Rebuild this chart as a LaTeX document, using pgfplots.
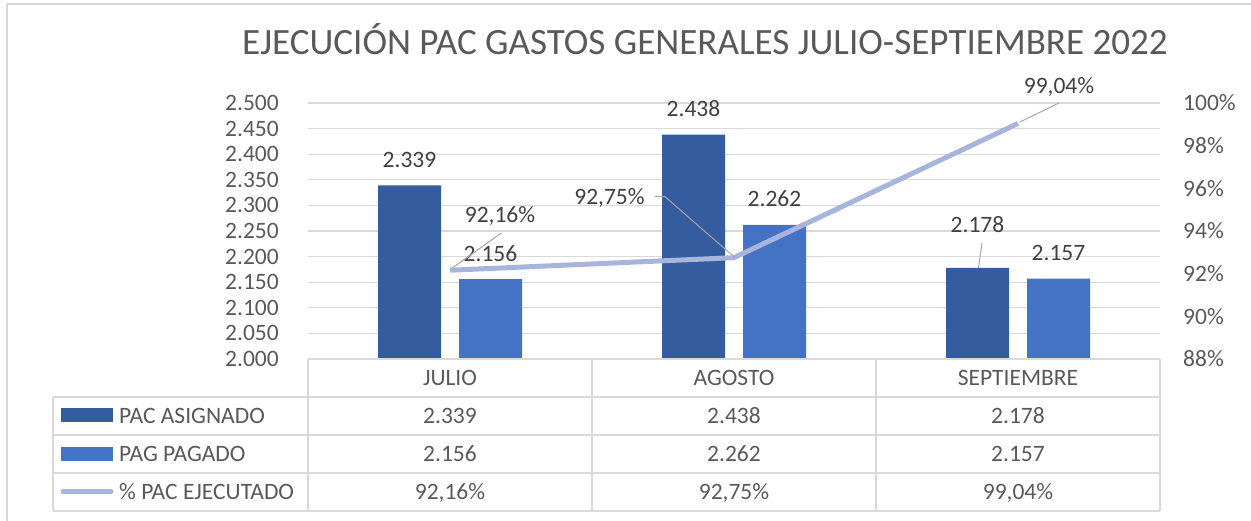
\documentclass[border=0pt]{standalone}
\usepackage{fontspec}
\setmainfont{Carlito}
\usepackage{pgfplots}
\pgfplotsset{compat=1.18}
\usepackage{pgfplotstable}
\definecolor{darkbar}{HTML}{345C9E}
\definecolor{lightbar}{HTML}{4472C4}
\definecolor{linec}{HTML}{A7B5DD}
\definecolor{gridc}{HTML}{D9D9D9}
\definecolor{txt}{HTML}{595959}
\definecolor{lbl}{HTML}{404040}
\definecolor{leader}{HTML}{A6A6A6}

\pgfplotstableread{
x y dy
0 2.339 18
1 2.438 18
2 2.178 35
}\asignado
\pgfplotstableread{
x y dy
0 2.156 18
1 2.262 18
2 2.157 18
}\pagado
\pgfplotstableread{
x y dx dy
0 92.16 50 48
1 92.75 -124.5 53
2 99.04 41 29.5
}\ejec

\newcommand{\fs}{\fontsize{23.5}{28}\selectfont}

\begin{document}
\begin{tikzpicture}[x=1pt,y=1pt]
\path[use as bounding box] (0,0) rectangle (1251,521);
\draw[gridc, line width=1.2pt] (7,0) -- (7,517) -- (1251,517);

\node[txt, anchor=base, font=\fontsize{37.1}{41}\selectfont, inner sep=0pt] at (705,466) {EJECUCIÓN PAC GASTOS GENERALES JULIO-SEPTIEMBRE 2022};

\begin{axis}[
  at={(308pt,162pt)}, anchor=south west,
  width=852pt, height=256pt, scale only axis,
  xmin=-0.5, xmax=2.5, ymin=2, ymax=2.5,
  xtick=\empty,
  ytick={2,2.05,2.1,2.15,2.2,2.25,2.3,2.35,2.4,2.45,2.5},
  ymajorgrids, grid style={gridc, line width=1.2pt},
  axis line style={draw=none},
  major tick length=0pt,
  yticklabel style={txt, font=\fs, anchor=east, inner sep=0pt, xshift=-29pt,
    /pgf/number format/.cd, fixed, fixed zerofill, precision=3, assume math mode=true},
]
\addplot[ybar, bar width=63pt, bar shift=-40.5pt, fill=darkbar, draw=none,
  nodes near coords={\pgfmathprintnumber[fixed,fixed zerofill,precision=3,assume math mode=true]{\pgfplotspointmeta}},
  visualization depends on={\thisrow{dy} \as \labdy},
  every node near coord/.append style={lbl, font=\fs, anchor=base, inner sep=0pt, xshift=-40.5pt, yshift=\labdy pt}
] table[x=x,y=y] {\asignado};
\addplot[ybar, bar width=63pt, bar shift=40.5pt, fill=lightbar, draw=none,
  nodes near coords={\pgfmathprintnumber[fixed,fixed zerofill,precision=3,assume math mode=true]{\pgfplotspointmeta}},
  visualization depends on={\thisrow{dy} \as \labdy},
  every node near coord/.append style={lbl, font=\fs, anchor=base, inner sep=0pt, xshift=40.5pt, yshift=\labdy pt}
] table[x=x,y=y] {\pagado};
\draw[leader, line width=1pt] (axis cs:2,2.178) ++(-39.5pt,0pt) -- ++(3.5pt,25pt);
\end{axis}

\begin{axis}[
  at={(308pt,162pt)}, anchor=south west,
  width=852pt, height=256pt, scale only axis,
  xmin=-0.5, xmax=2.5, ymin=88, ymax=100,
  axis y line*=right,
  xtick=\empty,
  ytick={88,90,92,94,96,98,100},
  yticklabel={\pgfmathprintnumber[assume math mode=true]{\tick}\%},
  yticklabel style={txt, font=\fs, anchor=west, inner sep=0pt, xshift=23pt},
  axis line style={draw=none}, major tick length=0pt,
  clip=false,
]
\addplot[linec, line width=5pt, line join=round, no markers,
  nodes near coords={\pgfmathprintnumber[fixed,fixed zerofill,precision=2,use comma,assume math mode=true]{\pgfplotspointmeta}\%},
  visualization depends on={\thisrow{dx} \as \labdx},
  visualization depends on={\thisrow{dy} \as \labdy},
  every node near coord/.append style={lbl, font=\fs, anchor=base, inner sep=0pt, xshift=\labdx pt, yshift=\labdy pt}
] table[x=x,y=y] {\ejec};
\draw[leader, line width=1pt] (axis cs:0,92.16) ++(2pt,2pt) -- ++(49pt,35pt);
\draw[leader, line width=1pt] (axis cs:1,92.75) ++(1pt,0pt) -- ++(-70pt,61pt) -- ++(-10pt,0pt);
\draw[leader, line width=1pt] (axis cs:2,99.04) ++(2pt,1.5pt) -- ++(39pt,19pt);
\end{axis}

% data table
\draw[gridc, line width=1.2pt] (308,162) -- (1160,162);
\foreach \yy in {124,86,48,10} \draw[gridc, line width=1.2pt] (53,\yy) -- (1160,\yy);
\foreach \xx in {308,592,876,1160} \draw[gridc, line width=1.2pt] (\xx,162) -- (\xx,10);
\draw[gridc, line width=1.2pt] (53,124) -- (53,10);

\begin{scope}[every node/.style={txt, font=\fs, inner sep=0pt, anchor=base}]
\node at (450,135.5) {JULIO};
\node at (734,135.5) {AGOSTO};
\node at (1018,135.5) {SEPTIEMBRE};
\node at (450,97.5) {2.339};
\node at (734,97.5) {2.438};
\node at (1018,97.5) {2.178};
\node at (450,59.5) {2.156};
\node at (734,59.5) {2.262};
\node at (1018,59.5) {2.157};
\node at (450,21.5) {92,16\%};
\node at (734,21.5) {92,75\%};
\node at (1018,21.5) {99,04\%};
\node[anchor=base west] at (119,97.5) {PAC ASIGNADO};
\node[anchor=base west] at (119,59.5) {PAG PAGADO};
\node[anchor=base west] at (119,21.5) {\% PAC EJECUTADO};
\end{scope}
\fill[darkbar] (61,99) rectangle (113,113);
\fill[lightbar] (61,60) rectangle (113,74);
\draw[linec, line width=5pt, line cap=round] (63,29) -- (111,29);
\end{tikzpicture}
\end{document}
